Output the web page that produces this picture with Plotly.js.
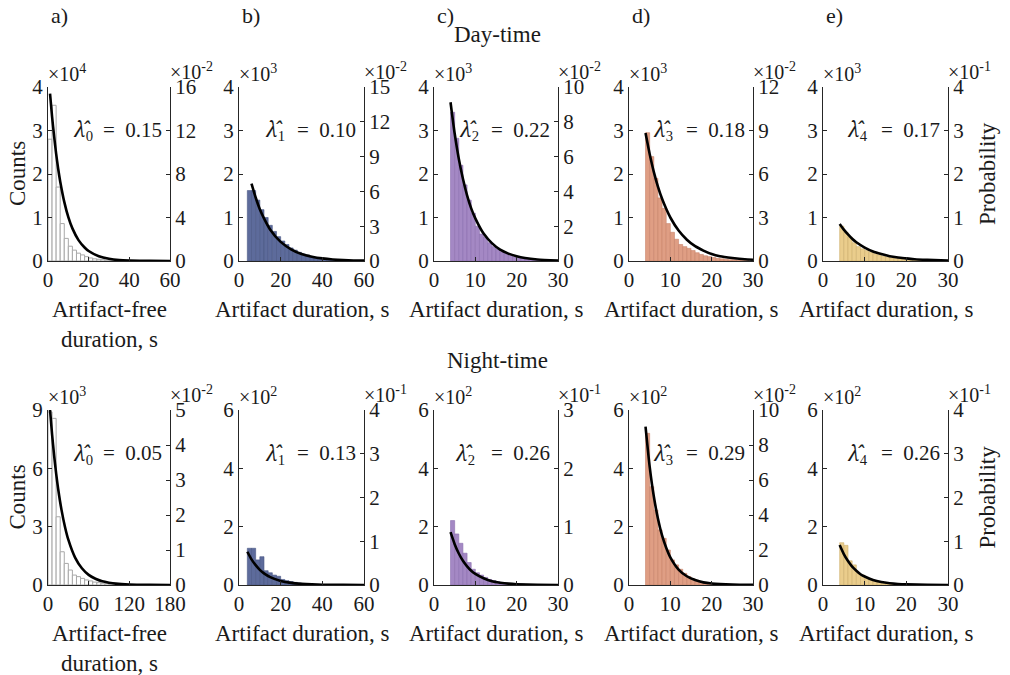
<!DOCTYPE html>
<html><head><meta charset="utf-8">
<script src="https://cdn.plot.ly/plotly-3.0.1.min.js"></script>
<style>html,body{margin:0;padding:0;background:#fff}#chart{width:1010px;height:675px}</style>
</head><body><div id="chart"></div>
<script>
// ---------- DATA (counts in displayed units of each panel's left axis) ----------
const dayA_x = [1,3,5,7,9,11,13,15,17,19,21,23,25,27,29,31,33,35,37,39];
const dayA_counts = [2.80,3.58,1.70,0.86,0.52,0.34,0.25,0.18,0.14,0.10,0.07,0.05,0.04,0.03,0.02,0.015,0.01,0.01,0.005,0.005];
const dayA_fitX = [1,2,3,4,5,6,8,10,12,15,18,20,25,30,35,40,50,60];
const dayA_fitY = [3.85,3.32,2.87,2.47,2.12,1.83,1.36,1.01,0.75,0.48,0.31,0.23,0.11,0.05,0.02,0.01,0.002,0.0005];

const dayB_x = [5,7,9,11,13,15,17,19,21,23,25,27,29,31,33,35,37,39,41,43,45,47,49];
const dayB_counts = [1.62,1.62,1.40,1.18,1.00,0.82,0.68,0.56,0.46,0.38,0.30,0.25,0.20,0.16,0.13,0.10,0.08,0.06,0.05,0.04,0.03,0.02,0.02];
const dayB_fitX = [6,8,10,12,15,20,25,30,35,40,45,50,55,60];
const dayB_fitY = [1.78,1.46,1.19,0.98,0.72,0.44,0.27,0.16,0.10,0.06,0.035,0.02,0.013,0.008];

const dayC_x = [4.5,5.5,6.5,7.5,8.5,9.5,10.5,11.5,12.5,13.5,14.5,15.5,16.5,17.5,18.5,19.5,20.5,21.5,22.5,23.5,24.5,25.5,26.5,27.5];
const dayC_counts = [3.42,2.82,2.20,1.75,1.40,1.10,0.80,0.62,0.55,0.42,0.33,0.27,0.21,0.17,0.13,0.10,0.08,0.06,0.05,0.04,0.03,0.02,0.01,0.01];
const dayC_fitX = [4,5,6,7,8,9,10,12,14,16,18,20,22,25,30];
const dayC_fitY = [3.65,2.93,2.35,1.89,1.51,1.21,0.98,0.63,0.41,0.26,0.17,0.11,0.07,0.036,0.012];

const dayD_x = [4.5,5.5,6.5,7.5,8.5,9.5,10.5,11.5,12.5,13.5,14.5,15.5,16.5,17.5,18.5,19.5,20.5,21.5,22.5,23.5,24.5,25.5,26.5,27.5,28.5];
const dayD_counts = [2.95,2.40,1.90,1.45,1.21,0.86,0.66,0.50,0.38,0.33,0.29,0.24,0.19,0.15,0.12,0.10,0.08,0.06,0.05,0.04,0.03,0.03,0.02,0.02,0.01];
const dayD_fitX = [4,5,6,7,8,9,10,12,14,16,18,20,22,25,28,30];
const dayD_fitY = [2.94,2.46,2.05,1.71,1.43,1.20,1.00,0.70,0.49,0.34,0.24,0.16,0.11,0.07,0.04,0.03];

const dayE_x = [4.5,5.5,6.5,7.5,8.5,9.5,10.5,11.5,12.5,13.5,14.5,15.5,16.5,17.5,18.5,19.5,20.5,21.5,22.5,23.5];
const dayE_counts = [0.80,0.66,0.55,0.42,0.33,0.28,0.24,0.20,0.17,0.14,0.11,0.09,0.07,0.06,0.05,0.04,0.03,0.03,0.02,0.02];
const dayE_fitX = [4,5,6,7,8,10,12,14,16,18,20,22,25,30];
const dayE_fitY = [0.85,0.72,0.61,0.51,0.43,0.31,0.22,0.16,0.11,0.08,0.06,0.04,0.025,0.01];

const nightA_x = [3,9,15,21,27,33,39,45,51,57,63,69,75,81,87,93,99,105,111,117];
const nightA_counts = [8.90,8.57,3.51,1.71,1.11,0.77,0.51,0.43,0.34,0.26,0.21,0.15,0.12,0.09,0.07,0.05,0.04,0.03,0.02,0.02];
const nightA_fitX = [3,6,9,12,15,20,25,30,40,50,60,70,80,90,100,120,150,180];
const nightA_fitY = [9.0,7.75,6.67,5.74,4.94,3.85,3.0,2.33,1.41,0.86,0.52,0.32,0.19,0.12,0.07,0.026,0.006,0.001];

const nightB_x = [5,7,9,11,13,15,17,19,21,23,25,27,29,31,33,35,37,39];
const nightB_counts = [1.26,1.26,0.86,0.97,0.49,0.42,0.34,0.30,0.19,0.15,0.12,0.09,0.07,0.05,0.04,0.03,0.02,0.02];
const nightB_fitX = [4,6,8,10,12,15,20,25,30,35,40,50,60];
const nightB_fitY = [1.14,0.88,0.68,0.52,0.40,0.27,0.14,0.073,0.038,0.02,0.01,0.003,0.001];

const nightC_x = [4.5,5.5,6.5,7.5,8.5,9.5,10.5,11.5,12.5,13.5,14.5,15.5,16.5,17.5,18.5,19.5,20.5,21.5];
const nightC_counts = [2.21,1.75,1.43,1.09,0.77,0.54,0.42,0.34,0.26,0.19,0.15,0.11,0.08,0.06,0.05,0.04,0.03,0.03];
const nightC_fitX = [4,5,6,7,8,9,10,12,14,16,18,20,25,30];
const nightC_fitY = [1.81,1.40,1.08,0.83,0.64,0.49,0.38,0.23,0.13,0.08,0.046,0.027,0.007,0.002];

const nightD_x = [4.5,5.5,6.5,7.5,8.5,9.5,10.5,11.5,12.5,13.5,14.5,15.5,16.5,17.5,18.5,19.5,20.5,21.5,22.5,23.5];
const nightD_counts = [5.20,3.37,2.57,1.89,1.60,1.20,0.86,0.69,0.54,0.40,0.29,0.21,0.16,0.12,0.08,0.06,0.04,0.03,0.02,0.02];
const nightD_fitX = [4,5,6,7,8,9,10,12,14,16,18,20,25,30];
const nightD_fitY = [5.43,4.06,3.04,2.28,1.70,1.28,0.95,0.53,0.30,0.17,0.09,0.05,0.012,0.003];

const nightE_x = [4.5,5.5,6.5,7.5,8.5,9.5,10.5,11.5,12.5,13.5,14.5,15.5,16.5,17.5,18.5];
const nightE_counts = [1.45,1.36,0.83,0.69,0.40,0.34,0.26,0.19,0.15,0.10,0.08,0.05,0.04,0.03,0.02];
const nightE_fitX = [4,5,6,7,8,9,10,12,14,16,18,20,25,30];
const nightE_fitY = [1.37,1.06,0.82,0.63,0.49,0.37,0.29,0.17,0.10,0.06,0.035,0.02,0.005,0.001];

// tick labels / axis ranges
const xTicks60 = [0,20,40,60];
const xTicks30 = [0,10,20,30];
const xTicks180 = [0,60,120,180];
const countTicksDay = [0,1,2,3,4];
const countTicksNightA = [0,3,6,9];
const countTicksNight = [0,2,4,6];
const probTicksDay = [[0,4,8,12,16],[0,3,6,9,12,15],[0,2,4,6,8,10],[0,3,6,9,12],[0,1,2,3,4]];
const probTicksNight = [[0,1,2,3,4,5],[0,1,2,3,4],[0,1,2,3],[0,2,4,6,8,10],[0,1,2,3,4]];
const lambdaDay = ["0.15","0.10","0.22","0.18","0.17"];
const lambdaNight = ["0.05","0.13","0.26","0.29","0.26"];
const countExpDay = ["4","3","3","3","3"];
const countExpNight = ["3","2","2","2","2"];
const probExpDay = ["-2","-2","-2","-2","-1"];
const probExpNight = ["-2","-1","-1","-2","-1"];
const panelLetters = ["a)","b)","c)","d)","e)"];
const xTitles = ["Artifact-free<br>duration, s","Artifact duration, s","Artifact duration, s","Artifact duration, s","Artifact duration, s"];

// ---------- LAYOUT / STYLE ----------
const W = 1010, H = 675;
const FONT = "Liberation Serif";
const AX = "#262626";
const TXT = "#1a1a1a";
const colX = [[48,170],[239,364],[434,558],[629,753],[823,948]];
const rowY = [[87,261],[410,585]];
const lamLeft = [[72,264,458,652,846],[72,264,454,652,846]];
const fills = ["#ffffff","#5d6b9b","#a488c4","#df9e84","#eacd8c"];
const edges = ["#a8a8a8","#4a5785","#8c6eae","#c7836a","#cfb06f"];
const px = v => v / W;
const py = v => 1 - v / H;

const panels = [
  {r:0,c:0,x:dayA_x,y:dayA_counts,fx:dayA_fitX,fy:dayA_fitY,bw:2,xmax:60,xt:xTicks60,ymax:4,yt:countTicksDay},
  {r:0,c:1,x:dayB_x,y:dayB_counts,fx:dayB_fitX,fy:dayB_fitY,bw:2,xmax:60,xt:xTicks60,ymax:4,yt:countTicksDay},
  {r:0,c:2,x:dayC_x,y:dayC_counts,fx:dayC_fitX,fy:dayC_fitY,bw:1,xmax:30,xt:xTicks30,ymax:4,yt:countTicksDay},
  {r:0,c:3,x:dayD_x,y:dayD_counts,fx:dayD_fitX,fy:dayD_fitY,bw:1,xmax:30,xt:xTicks30,ymax:4,yt:countTicksDay},
  {r:0,c:4,x:dayE_x,y:dayE_counts,fx:dayE_fitX,fy:dayE_fitY,bw:1,xmax:30,xt:xTicks30,ymax:4,yt:countTicksDay},
  {r:1,c:0,x:nightA_x,y:nightA_counts,fx:nightA_fitX,fy:nightA_fitY,bw:6,xmax:180,xt:xTicks180,ymax:9,yt:countTicksNightA},
  {r:1,c:1,x:nightB_x,y:nightB_counts,fx:nightB_fitX,fy:nightB_fitY,bw:2,xmax:60,xt:xTicks60,ymax:6,yt:countTicksNight},
  {r:1,c:2,x:nightC_x,y:nightC_counts,fx:nightC_fitX,fy:nightC_fitY,bw:1,xmax:30,xt:xTicks30,ymax:6,yt:countTicksNight},
  {r:1,c:3,x:nightD_x,y:nightD_counts,fx:nightD_fitX,fy:nightD_fitY,bw:1,xmax:30,xt:xTicks30,ymax:6,yt:countTicksNight},
  {r:1,c:4,x:nightE_x,y:nightE_counts,fx:nightE_fitX,fy:nightE_fitY,bw:1,xmax:30,xt:xTicks30,ymax:6,yt:countTicksNight}
];

const traces = [];
const layout = {
  width: W, height: H, margin: {l:0,r:0,t:0,b:0},
  paper_bgcolor: "#fff", plot_bgcolor: "rgba(0,0,0,0)",
  showlegend: false, bargap: 0, barmode: "overlay",
  font: {family: FONT, size: 21, color: TXT},
  annotations: []
};
const f = s => ({family: FONT, size: s, color: TXT});
const ann = (text, x, y, opts) => layout.annotations.push(Object.assign({
  text, x: px(x), y: py(y), xref: "paper", yref: "paper", showarrow: false, borderpad: 0,
  font: f(21), xanchor: "center", yanchor: "middle"
}, opts || {}));

panels.forEach((p, i) => {
  const k = i + 1, kr = i + 11;
  const xa = "x" + k, ya = "y" + k, yb = "y" + kr;
  const [x0, x1] = colX[p.c];
  const [yt0, yt1] = rowY[p.r];
  const probTicks = p.r === 0 ? probTicksDay[p.c] : probTicksNight[p.c];
  const pmax = probTicks[probTicks.length - 1];

  traces.push({type: "bar", x: p.x, y: p.y, width: p.bw, xaxis: xa, yaxis: ya,
    marker: {color: fills[p.c], line: {color: edges[p.c], width: p.c === 0 ? 1 : 0.6}},
    hoverinfo: "skip"});
  traces.push({type: "scatter", mode: "lines", x: p.fx, y: p.fy, xaxis: xa, yaxis: ya,
    line: {color: "#000", width: 2.6, shape: "spline", smoothing: 0.6}, hoverinfo: "skip", cliponaxis: true});
  traces.push({type: "scatter", mode: "lines", x: [0, p.xmax], y: [null, null], xaxis: xa, yaxis: yb, hoverinfo: "skip"});

  const common = {showgrid: false, zeroline: false, showline: true, linecolor: AX, linewidth: 1,
    ticks: "inside", ticklen: 4, tickcolor: AX, tickwidth: 1, fixedrange: true, tickfont: f(21)};
  layout["xaxis" + (k === 1 ? "" : k)] = Object.assign({}, common, {
    domain: [px(x0), px(x1)], anchor: ya, range: [0, p.xmax], tickmode: "array", tickvals: p.xt, ticktext: p.xt.map(String)});
  layout["yaxis" + (k === 1 ? "" : k)] = Object.assign({}, common, {
    domain: [py(yt1), py(yt0)], anchor: xa, side: "left", range: [0, p.ymax], tickmode: "array", tickvals: p.yt, ticktext: p.yt.map(String)});
  layout["yaxis" + kr] = Object.assign({}, common, {
    overlaying: ya, anchor: xa, side: "right", range: [0, pmax], tickmode: "array", tickvals: probTicks, ticktext: probTicks.map(String)});

  // lambda label: symbol part and value part
  const lam = p.r === 0 ? lambdaDay[p.c] : lambdaNight[p.c];
  const ly = yt0 + 0.247 * (yt1 - yt0);
  ann('<span style="font-family:Noto Serif"><i>λ̂</i></span><sub>' + p.c + "</sub>", lamLeft[p.r][p.c], ly,
    {xanchor: "left", font: f(21)});
  ann("=&nbsp;&nbsp;" + lam, x1 - 7, ly, {xanchor: "right", font: f(21)});
  // exponent labels
  const ce = p.r === 0 ? countExpDay[p.c] : countExpNight[p.c];
  const pe = p.r === 0 ? probExpDay[p.c] : probExpNight[p.c];
  ann("×10<sup>" + ce + "</sup>", x0 - 1, yt0 - 14, {xanchor: "left", font: f(20)});
  ann("×10<sup>" + pe + "</sup>", x1 - 1, yt0 - 16, {xanchor: "left", font: f(20)});
  // x titles
  if (p.c === 0) ann(xTitles[p.c], (x0 + x1) / 2, yt1 + 63, {font: f(23)});
  else ann(xTitles[p.c], (x0 + x1) / 2, yt1 + 48, {font: f(23)});
  // y titles
  if (p.c === 0) ann("Counts", 17, (yt0 + yt1) / 2, {textangle: -90, font: f(23)});
  if (p.c === 4) ann("Probability", 987, (yt0 + yt1) / 2, {textangle: -90, font: f(23)});
});

panelLetters.forEach((t, c) => ann(t, colX[c][0] + 2, 15, {xanchor: "left", font: f(22)}));
ann("Day-time", 497, 35, {font: f(23)});
ann("Night-time", 497, 360, {font: f(23)});

Plotly.newPlot("chart", traces, layout, {staticPlot: true, displayModeBar: false});
</script>
</body></html>
